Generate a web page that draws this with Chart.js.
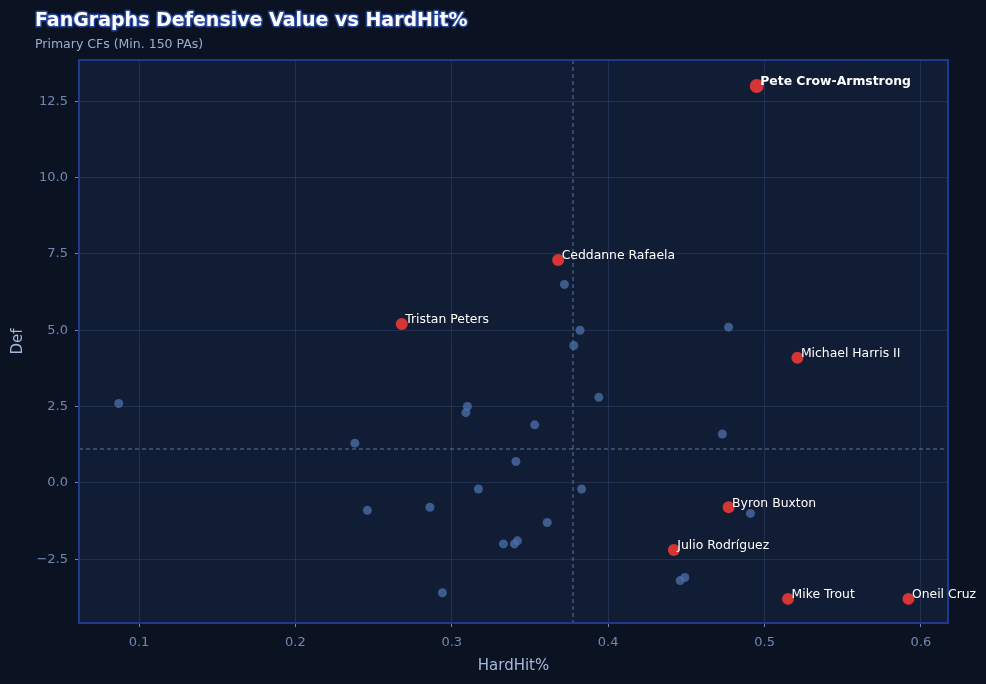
<!DOCTYPE html>
<html>
<head>
<meta charset="utf-8">
<script src="https://cdn.jsdelivr.net/npm/chart.js@4"></script>
<style>
html,body{margin:0;padding:0;background:#0b1322;}
#wrap{width:986px;height:684px;position:relative;}
</style>
</head>
<body>
<div id="wrap"><canvas id="c" width="986" height="684"></canvas></div>
<script>
// ---- Data ----
const highlightNames = ["Pete Crow-Armstrong","Ceddanne Rafaela","Tristan Peters","Michael Harris II","Byron Buxton","Julio Rodríguez","Mike Trout","Oneil Cruz"];
const highlightHardHit = [0.495, 0.368, 0.268, 0.521, 0.477, 0.442, 0.515, 0.592];
const highlightDef = [13.0, 7.3, 5.2, 4.1, -0.8, -2.2, -3.8, -3.8];

const otherHardHit = [0.087, 0.310, 0.309, 0.353, 0.238, 0.341, 0.317, 0.246, 0.286, 0.361, 0.333, 0.340, 0.342, 0.294,
                      0.372, 0.382, 0.378, 0.477, 0.394, 0.473, 0.383, 0.491, 0.446, 0.449];
const otherDef = [2.6, 2.5, 2.3, 1.9, 1.3, 0.7, -0.2, -0.9, -0.8, -1.3, -2.0, -2.0, -1.9, -3.6,
                  6.5, 5.0, 4.5, 5.1, 2.8, 1.6, -0.2, -1.0, -3.2, -3.1];

const medianHardHit = 0.3775;
const medianDef = 1.11;

const xTicks = [0.1, 0.2, 0.3, 0.4, 0.5, 0.6];
const yTicks = [-2.5, 0.0, 2.5, 5.0, 7.5, 10.0, 12.5];

const titleText = "FanGraphs Defensive Value vs HardHit%";
const subtitleText = "Primary CFs (Min. 150 PAs)";
const xTitle = "HardHit%";
const yTitle = "Def";

// ---- Build ----
const otherPts = otherHardHit.map((x,i)=>({x, y: otherDef[i]}));
const hiPts = highlightHardHit.map((x,i)=>({x, y: highlightDef[i], name: highlightNames[i]}));

const FONT = "'DejaVu Sans', sans-serif";

const bgPlugin = {
  id: 'bg',
  beforeDraw(chart) {
    const {ctx, chartArea:a} = chart;
    ctx.save();
    ctx.fillStyle = '#0b1322';
    ctx.fillRect(0,0,chart.width,chart.height);
    ctx.fillStyle = '#111c35';
    ctx.fillRect(a.left, a.top, a.right-a.left, a.bottom-a.top);
    ctx.restore();
  },
  beforeDatasetsDraw(chart) {
    const {ctx, chartArea:a, scales} = chart;
    const xp = scales.x.getPixelForValue(medianHardHit);
    const yp = scales.y.getPixelForValue(medianDef);
    ctx.save();
    ctx.strokeStyle = 'rgba(110,135,180,0.85)';
    ctx.lineWidth = 1;
    ctx.setLineDash([4,3]);
    ctx.beginPath();
    ctx.moveTo(xp, a.top); ctx.lineTo(xp, a.bottom);
    ctx.moveTo(a.left, yp); ctx.lineTo(a.right, yp);
    ctx.stroke();
    ctx.restore();
  },
  afterDraw(chart) {
    const {ctx, chartArea:a, scales} = chart;
    ctx.save();
    // frame
    ctx.strokeStyle = '#1f3a8c';
    ctx.lineWidth = 2;
    ctx.strokeRect(a.left, a.top, a.right-a.left, a.bottom-a.top);
    // labels
    ctx.textBaseline = 'middle';
    ctx.textAlign = 'left';
    ctx.fillStyle = '#ffffff';
    hiPts.forEach((p,i)=>{
      const px = scales.x.getPixelForValue(p.x);
      const py = scales.y.getPixelForValue(p.y);
      ctx.font = (i===0 ? 'bold ' : '') + '12.4px ' + FONT;
      ctx.fillText(p.name, px+3.5, py-4);
    });
    // title
    ctx.font = 'bold 19px ' + FONT;
    ctx.textBaseline = 'alphabetic';
    ctx.lineJoin = 'round';
    ctx.strokeStyle = 'rgba(45,80,175,0.85)';
    ctx.lineWidth = 3;
    ctx.strokeText(titleText, 35, 26);
    ctx.fillStyle = '#ffffff';
    ctx.fillText(titleText, 35, 26);
    ctx.font = '12.5px ' + FONT;
    ctx.fillStyle = '#9aaed0';
    ctx.fillText(subtitleText, 35, 48);
    ctx.restore();
  }
};

const tickColor = '#7189b2';
const gridColor = 'rgba(60,80,125,0.38)';

new Chart(document.getElementById('c'), {
  type: 'scatter',
  data: {
    datasets: [
      { label: 'Others', data: otherPts, pointRadius: 4.5, pointHoverRadius: 4.5,
        backgroundColor: 'rgba(72,110,165,0.78)', borderWidth: 0 },
      { label: 'Highlighted', data: hiPts,
        pointRadius: hiPts.map((p,i)=> i===0 ? 7 : 6),
        backgroundColor: 'rgba(225,55,55,0.95)', borderWidth: 0 }
    ]
  },
  options: {
    responsive: false,
    animation: false,
    devicePixelRatio: 1,
    layout: { padding: { top: 60, right: 38, left: 0, bottom: 0 } },
    plugins: { legend: { display: false }, tooltip: { enabled: false } },
    scales: {
      x: {
        type: 'linear', min: 0.0616, max: 0.6173,
        afterFit(s){ s.height = 61; },
        afterBuildTicks(s){ s.ticks = xTicks.map(v=>({value:v})); },
        ticks: { color: tickColor, font: { family: FONT, size: 13 }, padding: 8,
                 callback: v => String(Number(v.toFixed(1))) },
        grid: { color: gridColor, drawTicks: true, tickLength: 4, tickColor: tickColor },
        border: { display: false },
        title: { display: true, text: xTitle, color: '#a5b8db', font: { family: FONT, size: 15 }, padding: { top: 4, bottom: 9 } }
      },
      y: {
        type: 'linear', min: -4.59, max: 13.85,
        afterFit(s){ s.width = 79; },
        afterBuildTicks(s){ s.ticks = yTicks.map(v=>({value:v})); },
        ticks: { color: tickColor, font: { family: FONT, size: 13 }, padding: 7,
                 callback: v => v.toFixed(1).replace('-', '\u2212') },
        grid: { color: gridColor, drawTicks: true, tickLength: 4, tickColor: tickColor },
        border: { display: false },
        title: { display: true, text: yTitle, color: '#a5b8db', font: { family: FONT, size: 15 }, padding: { bottom: 0, top: 9 } }
      }
    }
  },
  plugins: [bgPlugin]
});
</script>
</body>
</html>
